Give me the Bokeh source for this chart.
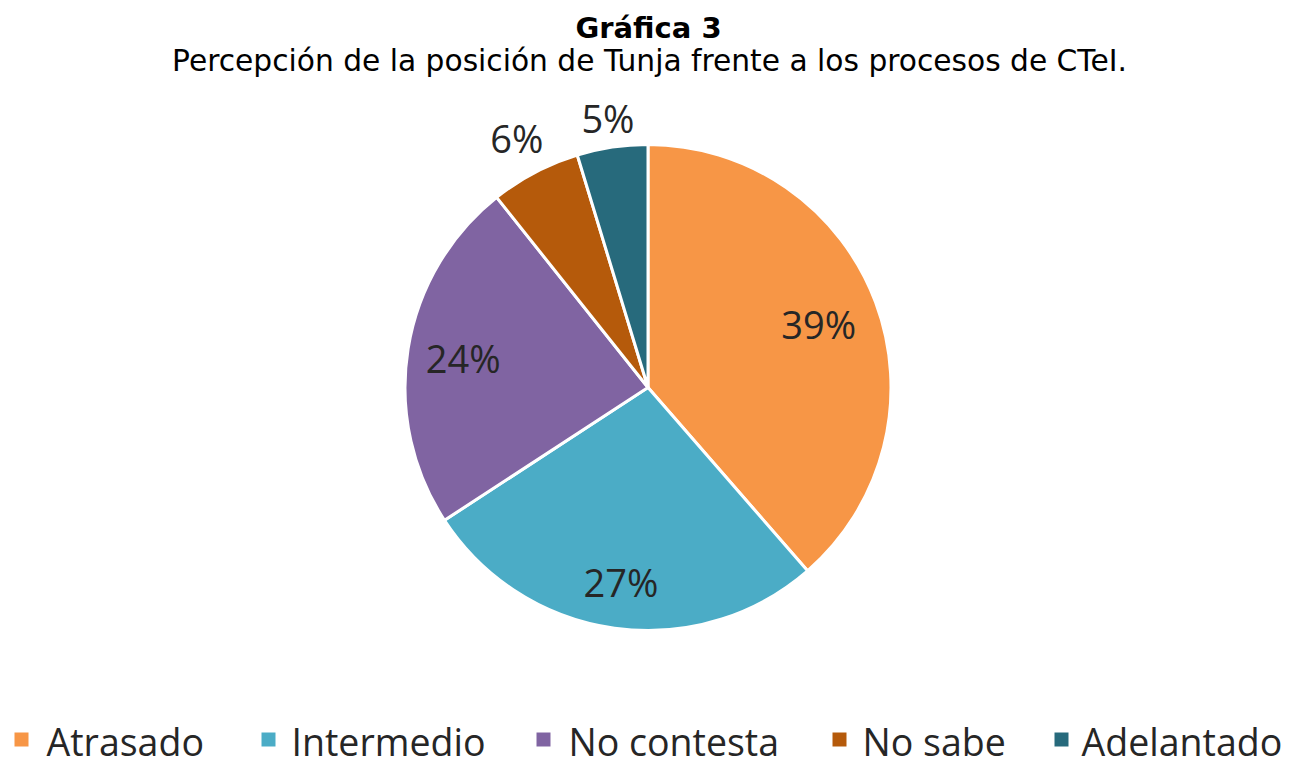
import math
from bokeh.plotting import figure
from bokeh.models import Range1d, ColumnDataSource
from bokeh.core.properties import value
from bokeh.embed import file_html
from bokeh.resources import INLINE

# ---- data ----
categories = ["Atrasado", "Intermedio", "No contesta", "No sabe", "Adelantado"]
shares = [38.6, 27.2, 23.5, 6.0, 4.7]
colors = ["#F79646", "#4BACC6", "#8064A2", "#B55A0B", "#276A7C"]
title_text = "Gráfica 3"
subtitle_text = "Percepción de la posición de Tunja frente a los procesos de CTeI."

# ---- layout (pixel-like data space: x = px, y = -px) ----
W, H = 1295, 766
CX, CY, R = 647.5, -387.0, 243.0
label_r = [0.75, 0.81, 0.77, 1.16, 1.12]
legend_sq_x = [21, 268, 543, 839, 1061]
legend_tx_x = [46, 291, 568, 862, 1081]
legend_sq_y = -739
legend_mid_y = -741

p = figure(width=W, height=H, x_range=Range1d(0, W), y_range=Range1d(-H, 0),
           output_backend="svg", toolbar_location=None, min_border=0,
           x_axis_location=None, y_axis_location=None,
           outline_line_color=None, background_fill_color="white",
           border_fill_color="white")
p.grid.visible = False

total = sum(shares)
starts, ends, lx, ly, labels = [], [], [], [], []
cum = 0.0
for v, f in zip(shares, label_r):
    a_top = math.pi / 2 - 2 * math.pi * cum / total
    a_bot = math.pi / 2 - 2 * math.pi * (cum + v) / total
    starts.append(a_bot)
    ends.append(a_top)
    mid = (a_top + a_bot) / 2
    lx.append(CX + f * R * math.cos(mid))
    ly.append(CY + f * R * math.sin(mid))
    labels.append(f"{int(v + 0.5)}%")
    cum += v

src = ColumnDataSource(dict(x=[CX] * len(shares), y=[CY] * len(shares),
                            start=starts, end=ends, color=colors, cat=categories))
p.wedge(x="x", y="y", radius=R, start_angle="start", end_angle="end",
        direction="anticlock", fill_color="color", line_color="white",
        line_width=3, source=src)

p.text(x=lx, y=ly, text=labels, text_align="center", text_baseline="middle",
       text_font=value("Open Sans"), text_font_size="38px", text_color="#262626")

# titles
p.text(x=[648], y=[-27], text=[title_text], text_align="center",
       text_baseline="middle", text_font=value("DejaVu Sans"),
       text_font_style="bold", text_font_size="29px", text_color="#000000")
p.text(x=[649], y=[-60], text=[subtitle_text], text_align="center",
       text_baseline="middle", text_font=value("DejaVu Sans"),
       text_font_size="29.7px", text_color="#000000")

# legend
p.rect(x=legend_sq_x, y=[legend_sq_y] * 5, width=14, height=14,
       fill_color=colors, line_color=None)
p.text(x=legend_tx_x, y=[legend_mid_y] * 5, text=categories, text_align="left",
       text_baseline="middle", text_font=value("Open Sans"),
       text_font_size="37.5px", text_color="#262626")

open("out.html", "w").write(file_html(p, INLINE))
